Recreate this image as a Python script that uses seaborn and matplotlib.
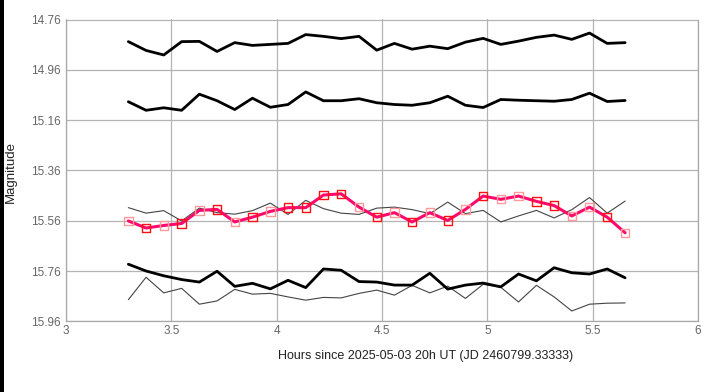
import matplotlib
matplotlib.use("Agg")
import matplotlib.pyplot as plt
import seaborn as sns
import pandas as pd
from matplotlib.patches import Rectangle

# ---- data ----
hours = [3.296, 3.380, 3.464, 3.549, 3.633, 3.717, 3.801, 3.885, 3.970, 4.054,
         4.138, 4.222, 4.306, 4.391, 4.475, 4.559, 4.643, 4.727, 4.812, 4.896,
         4.980, 5.064, 5.148, 5.233, 5.317, 5.401, 5.485, 5.569, 5.654]

comp1 = [14.848, 14.883, 14.901, 14.848, 14.847, 14.887, 14.852, 14.863, 14.859, 14.855,
         14.820, 14.827, 14.836, 14.827, 14.882, 14.855, 14.878, 14.866, 14.876, 14.850,
         14.835, 14.859, 14.846, 14.831, 14.822, 14.839, 14.814, 14.855, 14.852]

comp2 = [15.087, 15.121, 15.111, 15.121, 15.057, 15.083, 15.118, 15.073, 15.109, 15.098,
         15.048, 15.083, 15.083, 15.075, 15.091, 15.098, 15.101, 15.091, 15.065, 15.101,
         15.110, 15.078, 15.081, 15.083, 15.085, 15.078, 15.053, 15.086, 15.082]

target = [15.561, 15.589, 15.579, 15.571, 15.519, 15.515, 15.565, 15.546, 15.523, 15.508,
          15.508, 15.458, 15.453, 15.506, 15.546, 15.528, 15.565, 15.528, 15.559, 15.515,
          15.462, 15.475, 15.462, 15.483, 15.500, 15.541, 15.506, 15.546, 15.608]

check1 = [15.508, 15.530, 15.520, 15.561, 15.510, 15.528, 15.534, 15.520, 15.490, 15.535,
          15.479, 15.512, 15.530, 15.535, 15.510, 15.506, 15.516, 15.532, 15.486, 15.532,
          15.519, 15.565, 15.541, 15.519, 15.549, 15.516, 15.468, 15.530, 15.482]

comp3 = [15.733, 15.760, 15.779, 15.794, 15.804, 15.761, 15.821, 15.809, 15.831, 15.797,
         15.826, 15.752, 15.757, 15.802, 15.804, 15.816, 15.816, 15.769, 15.832, 15.816,
         15.808, 15.823, 15.772, 15.799, 15.747, 15.767, 15.772, 15.752, 15.787]

check2 = [15.874, 15.785, 15.847, 15.829, 15.892, 15.879, 15.833, 15.852, 15.849, 15.863,
          15.876, 15.865, 15.867, 15.849, 15.836, 15.856, 15.817, 15.847, 15.820, 15.869,
          15.813, 15.825, 15.883, 15.817, 15.863, 15.919, 15.892, 15.888, 15.887]

y_ticks = [14.76, 14.96, 15.16, 15.36, 15.56, 15.76, 15.96]
x_ticks = [3, 3.5, 4, 4.5, 5, 5.5, 6]
x_label = "Hours since 2025-05-03 20h UT (JD 2460799.33333)"
y_label = "Magnitude"

# marker edge style per target point (True = strong red, False = light)
strong = [False, True, False, True, False, True, False, True, False, True,
          True, True, True, False, True, False, True, False, True, False,
          True, False, False, True, True, False, False, True, False]

# ---- plot ----
sns.set_theme(style="white")
plt.rcParams['font.family'] = ['Liberation Sans', 'DejaVu Sans']

fig = plt.figure(figsize=(7.18, 3.92), dpi=100)
ax = fig.add_axes([66 / 718, 1 - 321.3 / 392, (698 - 66) / 718, (321.3 - 19.5) / 392])

df = pd.DataFrame({"h": hours, "c1": comp1, "c2": comp2, "t": target,
                   "k1": check1, "c3": comp3, "k2": check2})

for col in ["k1", "k2"]:
    sns.lineplot(data=df, x="h", y=col, ax=ax, color="#444444", linewidth=0.8,
                 sort=False, zorder=3)
for col in ["c1", "c2", "c3"]:
    sns.lineplot(data=df, x="h", y=col, ax=ax, color="black", linewidth=2.0,
                 sort=False, zorder=4)
sns.lineplot(data=df, x="h", y="t", ax=ax, color="#ff0a6c", linewidth=2.2,
             sort=False, zorder=5)

df["edge"] = ["#ff1010" if s else "#ff9a9a" for s in strong]
for ec, sub in df.groupby("edge"):
    sns.scatterplot(data=sub, x="h", y="t", ax=ax, marker="s", s=36,
                    facecolors="none", edgecolor=ec, linewidth=1.0, zorder=6)

ax.set_xlim(3, 6)
ax.set_ylim(15.96, 14.76)
ax.set_xticks(x_ticks)
ax.set_xticklabels([f"{v:g}" for v in x_ticks])
ax.set_yticks(y_ticks)
ax.set_yticklabels([f"{v:.2f}" for v in y_ticks])

ax.grid(True, color="#b4b4b4", linewidth=0.9)
ax.set_axisbelow(True)
ax.spines["top"].set_visible(False)
for side in ["left", "bottom", "right"]:
    ax.spines[side].set_visible(True)
    ax.spines[side].set_color("#a8a8a8")
    ax.spines[side].set_linewidth(0.9)

ax.tick_params(axis="both", which="both", length=3, width=0.8, color="#b4b4b4",
               labelsize=8.5, labelcolor="#666666", pad=1)
ax.tick_params(axis="x", direction="inout", length=4)
ax.set_xlabel("")
ax.set_ylabel("")

fig.text(426 / 718, 1 - 356 / 392, x_label, ha="center", va="center",
         fontsize=9, color="#222222")
fig.text(11 / 718, 1 - 172 / 392, y_label, ha="center", va="center",
         rotation=90, fontsize=9.5, color="#222222")

fig.patches.append(Rectangle((0, 0), 4 / 718, 1, transform=fig.transFigure,
                             facecolor="black", edgecolor="none", zorder=0))

fig.savefig("out.png", dpi=100)
